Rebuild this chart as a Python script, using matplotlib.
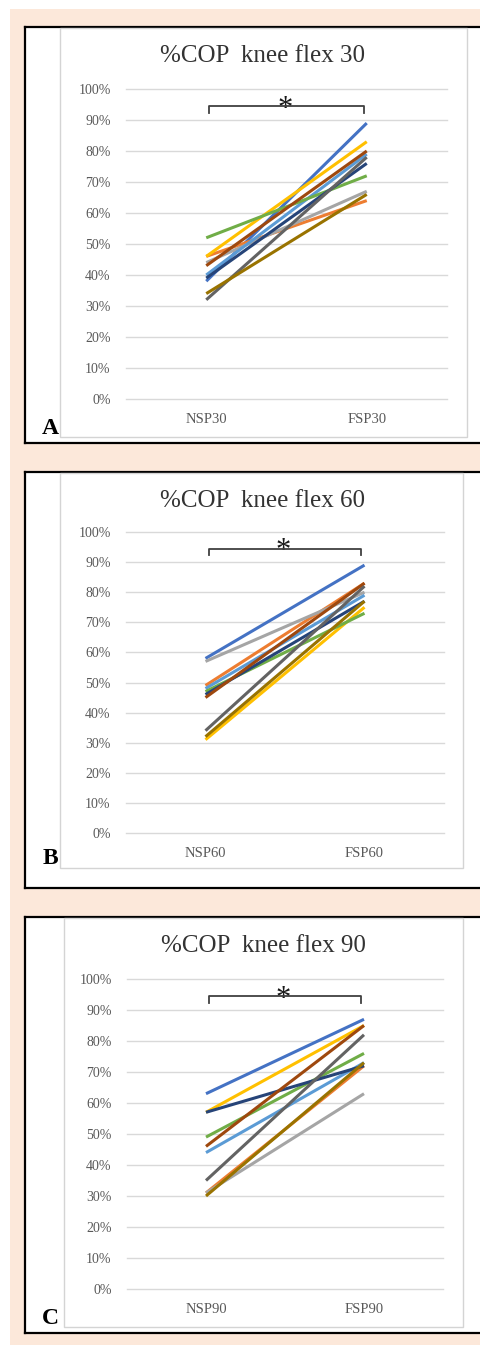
import matplotlib
matplotlib.use("Agg")
import matplotlib.pyplot as plt
from matplotlib.patches import Rectangle
from matplotlib.lines import Line2D

W, H = 480, 1347

# data (fractions), one row per subject
categories = [["NSP30", "FSP30"], ["NSP60", "FSP60"], ["NSP90", "FSP90"]]
titles = ["%COP  knee flex 30", "%COP  knee flex 60", "%COP  knee flex 90"]
letters = ["A", "B", "C"]
colors = ['#4472C4', '#ED7D31', '#A5A5A5', '#FFC000', '#5B9BD5',
          '#70AD47', '#264478', '#9E480E', '#636363', '#997300']

flex30_nsp = [0.38, 0.46, 0.44, 0.46, 0.40, 0.52, 0.39, 0.43, 0.32, 0.34]
flex30_fsp = [0.89, 0.64, 0.67, 0.83, 0.79, 0.72, 0.76, 0.80, 0.78, 0.66]
flex60_nsp = [0.58, 0.49, 0.57, 0.31, 0.48, 0.47, 0.46, 0.45, 0.34, 0.32]
flex60_fsp = [0.89, 0.83, 0.80, 0.75, 0.79, 0.73, 0.77, 0.83, 0.82, 0.77]
flex90_nsp = [0.63, 0.31, 0.31, 0.57, 0.44, 0.49, 0.57, 0.46, 0.35, 0.30]
flex90_fsp = [0.87, 0.72, 0.63, 0.85, 0.73, 0.76, 0.72, 0.85, 0.82, 0.73]

panels = [(flex30_nsp, flex30_fsp), (flex60_nsp, flex60_fsp), (flex90_nsp, flex90_fsp)]
yticks = [i / 10 for i in range(11)]

# layout in pixels (top-down)
frames = [(27, 443), (472, 888), (917, 1333)]            # black frame top/bottom
boxes = [(60, 28, 467, 437), (60, 473, 463, 868), (64, 918, 463, 1327)]  # white chart area
plots = [(126, 89, 447, 399), (126, 532, 444, 833), (127, 979, 443, 1289)]  # x0, y100, x1, y0

fig = plt.figure(figsize=(W / 100, H / 100), dpi=100)
fig.patch.set_facecolor('white')


def fx(x):
    return x / W


def fy(y):
    return 1 - y / H


fig.patches.append(Rectangle((fx(10), fy(1345)), fx(470), (1345 - 9) / H,
                             transform=fig.transFigure, facecolor='#FCE8DA',
                             edgecolor='none', zorder=0))

for i in range(3):
    top, bot = frames[i]
    fig.patches.append(Rectangle((fx(25), fy(bot)), fx(W - 25 + 5), (bot - top) / H,
                                 transform=fig.transFigure, facecolor='white',
                                 edgecolor='none', zorder=1))
    for xs, ys in [([25, W + 5], [top, top]), ([25, W + 5], [bot, bot]), ([25, 25], [top, bot])]:
        fig.add_artist(Line2D([fx(v) for v in xs], [fy(v) for v in ys], color='black',
                              lw=1.6, transform=fig.transFigure, zorder=2))
    bx0, by0, bx1, by1 = boxes[i]
    fig.patches.append(Rectangle((fx(bx0), fy(by1)), (bx1 - bx0) / W, (by1 - by0) / H,
                                 transform=fig.transFigure, facecolor='white',
                                 edgecolor='#D4D4D4', lw=1.0, zorder=3))

    x0, y100, x1, y0 = plots[i]
    ax = fig.add_axes([fx(x0), fy(y0), (x1 - x0) / W, (y0 - y100) / H])
    ax.set_zorder(5)
    ax.patch.set_visible(False)
    nsp, fsp = panels[i]
    for yv in yticks:
        ax.axhline(yv, color='#D9D9D9', lw=1.0, zorder=1, clip_on=False)
    for a, b, c in zip(nsp, fsp, colors):
        ax.plot([0, 1], [a, b], color=c, lw=2.2, solid_capstyle='butt', zorder=3)
    ax.set_xlim(-0.5, 1.5)
    ax.set_ylim(0, 1)
    ax.set_yticks(yticks)
    ax.set_yticklabels([f"{int(v * 100)}%" for v in yticks], family='Liberation Serif',
                       fontsize=10, color='#595959')
    ax.set_xticks([0, 1])
    ax.set_xticklabels(categories[i], family='Liberation Serif', fontsize=10.5, color='#595959')
    ax.tick_params(length=0, pad=11)
    ax.tick_params(axis='x', pad=10)
    for s in ax.spines.values():
        s.set_visible(False)

    # significance bracket
    ax.plot([0.02, 0.02, 0.98, 0.98], [0.922, 0.945, 0.945, 0.922], color='#404040',
            lw=1.3, clip_on=False, zorder=4)
    ax.text(0.49, 0.91, "*", ha='center', va='baseline', fontsize=22,
            family='Liberation Serif', color='#1a1a1a', clip_on=False)

    fig.text(fx(263), fy(by0 + 28), titles[i], ha='center', va='center', fontsize=18,
             family='Liberation Serif', color='#333333', zorder=10)

    fig.text(fx(50), fy(by1 - 9), letters[i], ha='center', va='center', fontsize=17,
             fontweight='bold', family='Liberation Serif', color='black', zorder=10)

fig.savefig("out.png", dpi=100)
